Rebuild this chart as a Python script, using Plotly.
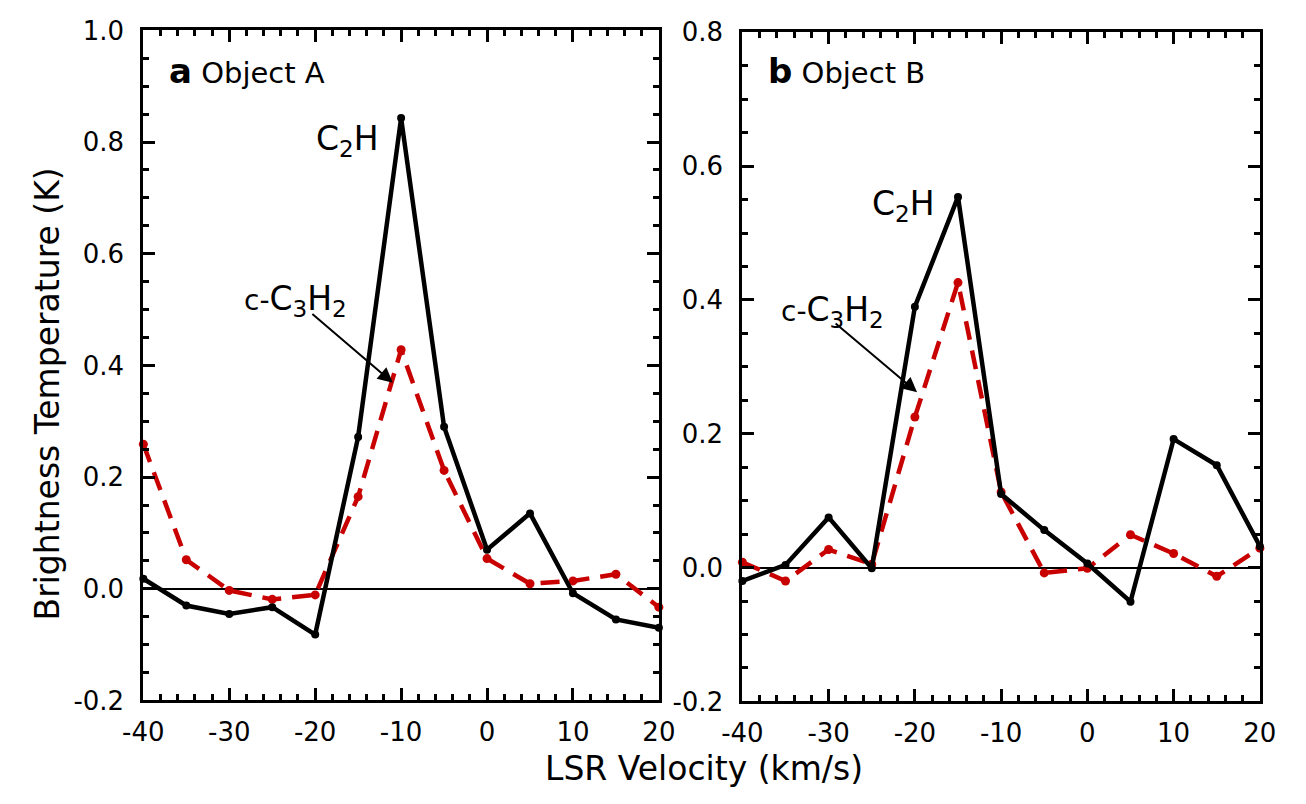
import plotly.graph_objects as go

# ---- data ----
velocity = [-40, -35, -30, -25, -20, -15, -10, -5, 0, 5, 10, 15, 20]
a_c2h = [0.018, -0.030, -0.045, -0.033, -0.082, 0.272, 0.843, 0.290, 0.070, 0.135, -0.008, -0.055, -0.070]
a_c3h2 = [0.259, 0.052, -0.003, -0.019, -0.011, 0.165, 0.428, 0.212, 0.054, 0.009, 0.014, 0.026, -0.033]
b_c2h = [-0.020, 0.004, 0.075, -0.001, 0.390, 0.554, 0.110, 0.056, 0.006, -0.051, 0.192, 0.153, 0.032]
b_c3h2 = [0.008, -0.020, 0.027, 0.005, 0.225, 0.426, 0.113, -0.008, -0.001, 0.049, 0.021, -0.013, 0.029]

x_tickvals = [-40, -30, -20, -10, 0, 10, 20]
x_ticktext = ["-40", "-30", "-20", "-10", "0", "10", "20"]
ya_tickvals = [-0.2, 0.0, 0.2, 0.4, 0.6, 0.8, 1.0]
ya_ticktext = ["-0.2", "0.0", "0.2", "0.4", "0.6", "0.8", "1.0"]
yb_tickvals = [-0.2, 0.0, 0.2, 0.4, 0.6, 0.8]
yb_ticktext = ["-0.2", "0.0", "0.2", "0.4", "0.6", "0.8"]

FONT = "DejaVu Sans"
BLACK = "#000000"
RED = "#c80000"
W, H = 1306, 804

fig = go.Figure()

def add_pair(c2h, c3h2, xa, ya):
    fig.add_trace(go.Scatter(
        x=velocity, y=c3h2, xaxis=xa, yaxis=ya, mode="lines+markers",
        line=dict(color=RED, width=4.5, dash="19px,11px"),
        marker=dict(color=RED, size=9), cliponaxis=False, showlegend=False))
    fig.add_trace(go.Scatter(
        x=velocity, y=c2h, xaxis=xa, yaxis=ya, mode="lines+markers",
        line=dict(color=BLACK, width=4.5),
        marker=dict(color=BLACK, size=8), cliponaxis=False, showlegend=False))

add_pair(a_c2h, a_c3h2, "x", "y")
add_pair(b_c2h, b_c3h2, "x2", "y2")

common_x = dict(
    range=[-40, 20], tickmode="array", tickvals=x_tickvals, ticktext=x_ticktext,
    ticks="inside", ticklen=12, tickwidth=3, tickcolor=BLACK,
    showline=True, linewidth=3, linecolor=BLACK, mirror="allticks",
    showgrid=False, zeroline=False, ticklabelstandoff=6,
    tickfont=dict(family=FONT, size=26, color=BLACK),
    minor=dict(ticks="inside", dtick=2, tick0=-40, ticklen=6, tickwidth=2.5,
               tickcolor=BLACK, showgrid=False),
)
common_y = dict(
    tickmode="array", ticks="inside", ticklen=12, tickwidth=3, tickcolor=BLACK,
    showline=True, linewidth=3, linecolor=BLACK, mirror="allticks",
    showgrid=False, zeroline=True, zerolinecolor=BLACK, zerolinewidth=1.5,
    ticklabelstandoff=11,
    tickfont=dict(family=FONT, size=26, color=BLACK),
    minor=dict(ticks="inside", dtick=0.05, tick0=0, ticklen=6, tickwidth=2.5,
               tickcolor=BLACK, showgrid=False),
)

fig.update_layout(
    width=W, height=H, margin=dict(l=0, r=0, t=0, b=0),
    paper_bgcolor="white", plot_bgcolor="white",
    xaxis=dict(domain=[126 / W, 657 / W], anchor="y", **common_x),
    xaxis2=dict(domain=[743 / W, 1276 / W], anchor="y2", **common_x),
    yaxis=dict(domain=[1 - 712 / H, 1 - 16 / H], anchor="x", range=[-0.2, 1.0],
               tickvals=ya_tickvals, ticktext=ya_ticktext, **common_y),
    yaxis2=dict(domain=[1 - 713 / H, 1 - 18 / H], anchor="x2", range=[-0.2, 0.8],
                tickvals=yb_tickvals, ticktext=yb_ticktext, **common_y),
)

big = dict(family=FONT, size=33, color=BLACK)
c3h2_text = "<span style='font-size:28px'>c-</span>C<sub>3</sub>H<sub>2</sub>"
annotations = [
    # panel labels
    dict(xref="paper", yref="paper", x=150 / W, y=1 - 58 / H, xanchor="left", yanchor="middle",
         text="<b><span style='font-size:34px'>a</span></b> Object A", showarrow=False,
         font=dict(family=FONT, size=29, color=BLACK)),
    dict(xref="paper", yref="paper", x=767 / W, y=1 - 58 / H, xanchor="left", yanchor="middle",
         text="<b><span style='font-size:34px'>b</span></b> Object B", showarrow=False,
         font=dict(family=FONT, size=29, color=BLACK)),
    # panel a species labels
    dict(xref="x", yref="y", x=-16.2, y=0.803, text="C<sub>2</sub>H", showarrow=False,
         font=big, xanchor="center", yanchor="middle"),
    dict(xref="x", yref="y", x=-22.3, y=0.517, text=c3h2_text, showarrow=False,
         font=big, xanchor="center", yanchor="middle"),
    dict(xref="x", yref="y", x=-10.96, y=0.369, text="", showarrow=True,
         ax=-82, ay=-70, arrowhead=2, arrowsize=1.5, arrowwidth=2, arrowcolor=BLACK,
         standoff=0),
    # panel b species labels
    dict(xref="x2", yref="y2", x=-21.3, y=0.541, text="C<sub>2</sub>H", showarrow=False,
         font=big, xanchor="center", yanchor="middle"),
    dict(xref="x2", yref="y2", x=-29.6, y=0.383, text=c3h2_text, showarrow=False,
         font=big, xanchor="center", yanchor="middle"),
    dict(xref="x2", yref="y2", x=-19.74, y=0.262, text="", showarrow=True,
         ax=-83, ay=-70, arrowhead=2, arrowsize=1.5, arrowwidth=2, arrowcolor=BLACK,
         standoff=0),
    # axis titles
    dict(xref="paper", yref="paper", x=703 / W, y=1 - 783 / H, xanchor="center", yanchor="middle",
         text="LSR Velocity (km/s)", showarrow=False, font=big),
    dict(xref="paper", yref="paper", x=27 / W, y=1 - 394 / H, xanchor="center", yanchor="middle",
         text="Brightness Temperature (K)", showarrow=False, font=big, textangle=-90),
]
fig.update_layout(annotations=annotations)

fig.write_html("out.html")
